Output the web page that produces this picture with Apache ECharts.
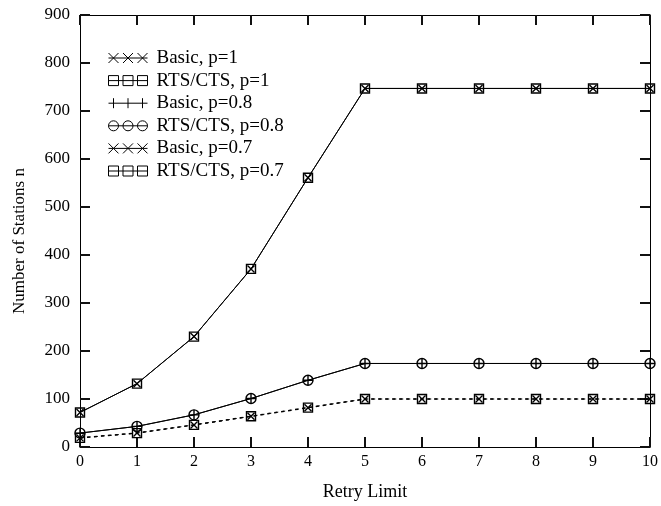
<!DOCTYPE html>
<html>
<head>
<meta charset="utf-8">
<script src="https://cdn.jsdelivr.net/npm/echarts@6/dist/echarts.min.js"></script>
<style>
html,body{margin:0;padding:0;background:#fff;}
#chart{width:661px;height:506px;}
</style>
</head>
<body>
<div id="chart"></div>
<script>
// Data
var retryLimits = [0, 1, 2, 3, 4, 5, 6, 7, 8, 9, 10];
var basicP1   = [72, 132, 230, 371, 561, 747, 747, 747, 747, 747, 747];
var rtsP1     = [72, 132, 230, 371, 561, 747, 747, 747, 747, 747, 747];
var basicP08  = [29, 43, 67, 101, 139, 174, 174, 174, 174, 174, 174];
var rtsP08    = [29, 43, 67, 101, 139, 174, 174, 174, 174, 174, 174];
var basicP07  = [19, 29, 46, 64, 82, 100, 100, 100, 100, 100, 100];
var rtsP07    = [19, 29, 46, 64, 82, 100, 100, 100, 100, 100, 100];
var seriesNames = ['Basic, p=1', 'RTS/CTS, p=1', 'Basic, p=0.8', 'RTS/CTS, p=0.8', 'Basic, p=0.7', 'RTS/CTS, p=0.7'];
var yTicks = [0, 100, 200, 300, 400, 500, 600, 700, 800, 900];

function pairs(vals) {
  return retryLimits.map(function (x, i) { return [x, vals[i]]; });
}

var FONT = 'Liberation Serif';
var symX = 'path://M0 0L10 10M0 10L10 0';
var symSq = 'path://M0 0L10 0L10 10L0 10Z';
var symPlus = 'path://M5 0L5 10M0 5L10 5';
var symCircle = 'path://M0 5A5 5 0 1 1 10 5A5 5 0 1 1 0 5Z';

var iconX = 'path://M0 5L39 5M0 0L10 10M0 10L10 0M14.5 0L24.5 10M14.5 10L24.5 0M29 0L39 10M29 10L39 0';
var iconSq = 'path://M0 5L39 5M0 0L10 0L10 10L0 10ZM14.5 0L24.5 0L24.5 10L14.5 10ZM29 0L39 0L39 10L29 10Z';
var iconPlus = 'path://M0 5L39 5M5 0L5 10M19.5 0L19.5 10M34 0L34 10';
var iconCircle = 'path://M0 5L39 5M0 5A5 5 0 1 1 10 5A5 5 0 1 1 0 5ZM14.5 5A5 5 0 1 1 24.5 5A5 5 0 1 1 14.5 5ZM29 5A5 5 0 1 1 39 5A5 5 0 1 1 29 5Z';

var strokeStyle = { color: 'rgba(0,0,0,0)', borderColor: '#000', borderWidth: 1 };

function mkSeries(name, vals, symbol, size, lineType, lw) {
  return {
    name: name,
    type: 'line',
    data: pairs(vals),
    symbol: symbol,
    symbolSize: size,
    showAllSymbol: true,
    itemStyle: { color: 'rgba(0,0,0,0)', borderColor: '#000', borderWidth: 1.4 },
    lineStyle: { color: '#000', width: lw, type: lineType },
    emphasis: { disabled: true }
  };
}

var chart = echarts.init(document.getElementById('chart'));
function axisBase() {
  return {
    type: 'value',
    axisLine: { show: true, onZero: false, lineStyle: { color: '#000', width: 1 } },
    axisTick: { show: true, inside: true, length: 10, lineStyle: { color: '#111', width: 2 } },
    splitLine: { show: false }
  };
}

chart.setOption({
  animation: false,
  grid: { left: 80, right: 10, top: 15, bottom: 58 },
  legend: {
    orient: 'vertical',
    left: 103,
    top: 43,
    itemWidth: 39,
    itemHeight: 10,
    itemGap: 2.6,
    selectedMode: false,
    textStyle: { fontFamily: FONT, fontSize: 19, color: '#000', lineHeight: 20, padding: [0, 0, 0, 4] },
    data: [
      { name: seriesNames[0], icon: iconX, itemStyle: strokeStyle },
      { name: seriesNames[1], icon: iconSq, itemStyle: strokeStyle },
      { name: seriesNames[2], icon: iconPlus, itemStyle: strokeStyle },
      { name: seriesNames[3], icon: iconCircle, itemStyle: strokeStyle },
      { name: seriesNames[4], icon: iconX, itemStyle: strokeStyle },
      { name: seriesNames[5], icon: iconSq, itemStyle: strokeStyle }
    ]
  },
  xAxis: [
    Object.assign(axisBase(), {
      position: 'bottom', min: 0, max: 10, interval: 1,
      name: 'Retry Limit', nameLocation: 'middle', nameGap: 36,
      nameTextStyle: { fontFamily: FONT, fontSize: 18, color: '#000' },
      axisLabel: { fontFamily: FONT, fontSize: 16, color: '#000', margin: 7 }
    }),
    Object.assign(axisBase(), {
      position: 'top', min: 0, max: 10, interval: 1,
      axisLabel: { show: false }
    })
  ],
  yAxis: [
    Object.assign(axisBase(), {
      position: 'left', min: yTicks[0], max: yTicks[yTicks.length - 1], interval: 100,
      name: 'Number of Stations n', nameLocation: 'middle', nameGap: 52,
      nameTextStyle: { fontFamily: FONT, fontSize: 17, color: '#000', padding: [0, 20, 0, 0] },
      axisLabel: { fontFamily: FONT, fontSize: 17, color: '#000', margin: 10 }
    }),
    Object.assign(axisBase(), {
      position: 'right', min: yTicks[0], max: yTicks[yTicks.length - 1], interval: 100,
      axisLabel: { show: false }
    })
  ],
  series: [
    mkSeries(seriesNames[1], rtsP1, symSq, 9, 'solid', 1),
    mkSeries(seriesNames[0], basicP1, symX, 7, 'solid', 1),
    mkSeries(seriesNames[3], rtsP08, symCircle, 10, 'solid', 1),
    mkSeries(seriesNames[2], basicP08, symPlus, 10, 'solid', 1),
    mkSeries(seriesNames[5], rtsP07, symSq, 9, [4, 3], 1),
    mkSeries(seriesNames[4], basicP07, symX, 7, [3, 4], 1.5)
  ]
});
</script>
</body>
</html>
